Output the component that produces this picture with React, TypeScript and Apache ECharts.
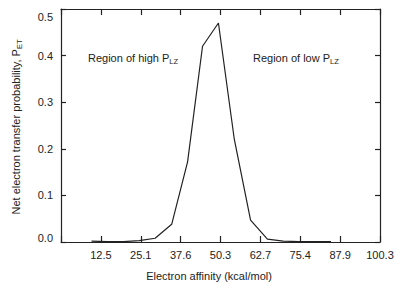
import React, { useEffect, useRef } from "react";
import * as echarts from "echarts";

const affinity = [9.6, 14.6, 19.6, 24.6, 29.6, 34.8, 39.8, 44.5, 49.5, 54.5, 59.6, 64.9, 69.9, 74.9, 79.9, 84.9];
const probability = [0.002, 0.001, 0.001, 0.003, 0.008, 0.038, 0.172, 0.42, 0.47, 0.22, 0.047, 0.006, 0.002, 0.001, 0.001, 0.001];
const xTickLabels = ["12.5", "25.1", "37.6", "50.3", "62.7", "75.4", "87.9", "100.3"];
const xMax = 100.3;
const xStep = xMax / 8;

const FONT = "Liberation Sans, Arial, Helvetica, sans-serif";
const INK = "#222";

export default function App() {
  const ref = useRef<HTMLDivElement>(null);
  useEffect(() => {
    if (!ref.current) return;
    const chart = echarts.init(ref.current, null, { renderer: "svg" });
    const axisLine = { show: true, onZero: false, lineStyle: { color: INK, width: 1.2 } };
    const tick = (len: number) => ({ show: true, inside: true, length: len, lineStyle: { color: INK, width: 1.2 } });
    const xLabel = (v: number) => {
      const i = Math.round(v / xStep);
      return i >= 1 ? xTickLabels[i - 1] : "";
    };
    chart.setOption({
      animation: false,
      backgroundColor: "#fff",
      textStyle: { fontFamily: FONT, color: INK },
      grid: { left: 61, right: 20, top: 9, bottom: 44, containLabel: false },
      xAxis: [
        {
          type: "value", min: 0, max: xMax, interval: xStep, position: "bottom",
          axisLine, splitLine: { show: false }, axisTick: tick(6),
          axisLabel: { formatter: xLabel, color: INK, fontSize: 11, fontFamily: FONT, margin: 7, showMaxLabel: true },
        },
        {
          type: "value", min: 0, max: xMax, interval: xStep, position: "top",
          axisLine, splitLine: { show: false }, axisTick: tick(6),
          axisLabel: { show: false },
        },
      ],
      yAxis: [
        {
          type: "value", min: 0, max: 0.5, interval: 0.1, position: "left",
          axisLine, splitLine: { show: false }, axisTick: tick(5),
          axisLabel: {
            color: INK, fontSize: 11, fontFamily: FONT, margin: 8,
            formatter: (v: number) => (v > 0.45 ? "{t|" + v.toFixed(1) + "}" : v < 0.05 ? "{b|" + v.toFixed(1) + "}" : v.toFixed(1)),
            rich: {
              t: { fontSize: 11, fontFamily: FONT, color: INK, padding: [16, 0, 0, 0] },
              b: { fontSize: 11, fontFamily: FONT, color: INK, padding: [0, 0, 8, 0] },
            },
          },
        },
        {
          type: "value", min: 0, max: 0.5, interval: 0.1, position: "right",
          axisLine, splitLine: { show: false }, axisTick: tick(5),
          axisLabel: { show: false },
        },
      ],
      series: [
        {
          type: "line",
          data: affinity.map((x, i) => [x, probability[i]]),
          symbol: "none",
          lineStyle: { color: INK, width: 1.2 },
          xAxisIndex: 0, yAxisIndex: 0,
        },
      ],
      graphic: [
        {
          type: "text", x: 88, y: 58,
          style: {
            text: "{a|Region of high P}{s|LZ}", verticalAlign: "middle", fill: INK,
            rich: {
              a: { fontSize: 11, fontFamily: FONT, fill: INK },
              s: { fontSize: 7.5, fontFamily: FONT, fill: INK, padding: [6, 0, 0, 0] },
            },
          },
        },
        {
          type: "text", x: 253, y: 58,
          style: {
            text: "{a|Region of low P}{s|LZ}", verticalAlign: "middle", fill: INK,
            rich: {
              a: { fontSize: 11, fontFamily: FONT, fill: INK },
              s: { fontSize: 7.5, fontFamily: FONT, fill: INK, padding: [6, 0, 0, 0] },
            },
          },
        },
        {
          type: "text", x: 209, y: 276,
          style: { text: "Electron affinity (kcal/mol)", fontSize: 11, fontFamily: FONT, fill: INK, align: "center", verticalAlign: "middle" },
        },
        {
          type: "text", x: 16, y: 127, rotation: Math.PI / 2,
          style: {
            text: "{a|Net electron transfer probability, P}{s|ET}", align: "center", verticalAlign: "middle", fill: INK,
            rich: {
              a: { fontSize: 11, fontFamily: FONT, fill: INK },
              s: { fontSize: 7.5, fontFamily: FONT, fill: INK, padding: [6, 0, 0, 0] },
            },
          },
        },
      ],
    });
    return () => chart.dispose();
  }, []);
  return <div ref={ref} style={{ width: 400, height: 286, position: "absolute", left: 0, top: 0 }} />;
}
